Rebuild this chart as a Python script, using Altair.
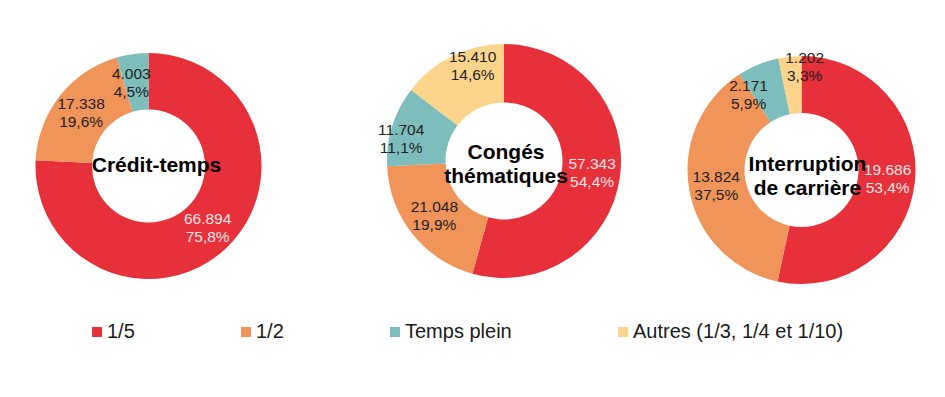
import altair as alt
import pandas as pd

categories = ["1/5", "1/2", "Temps plein", "Autres (1/3, 1/4 et 1/10)"]
colors = ["#E7303A", "#F09459", "#7DBEBD", "#FDD48B"]

credit_values = [66894, 17338, 4003]
credit_pct = [75.8, 19.6, 4.5]
conges_values = [57343, 21048, 11704, 15410]
conges_pct = [54.4, 19.9, 11.1, 14.6]
interr_values = [19686, 13824, 2171, 1202]
interr_pct = [53.4, 37.5, 5.9, 3.3]

titles = ["Crédit-temps", "Congés\nthématiques", "Interruption\nde carrière"]

# label nudges (pixels) for the small slices, as placed in the original
nudges = {
    (0, 2): (-5, 2),
    (1, 2): (-18, 5),
    (1, 3): (8, -15),
    (2, 2): (-20, 5),
    (2, 3): (12, -17),
}

FONT = "Liberation Sans"


def fmt_label(v, p):
    return f"{v:,}".replace(",", ".") + "\n" + f"{p:.1f}".replace(".", ",") + "%"


def donut(idx, title, values, pcts, w, h, R, legend, title_dx, title_dy):
    n = len(values)
    df = pd.DataFrame({
        "cat": categories[:n],
        "order": list(range(n)),
        "value": values,
        "label": [fmt_label(v, p) for v, p in zip(values, pcts)],
        "ndx": [nudges.get((idx, i), (0, 0))[0] for i in range(n)],
        "ndy": [nudges.get((idx, i), (0, 0))[1] - 9 for i in range(n)],
    })
    base = alt.Chart(df).encode(
        theta=alt.Theta("value:Q", stack=True),
        order=alt.Order("order:Q"),
    )
    arc = base.mark_arc(innerRadius=R * 0.5, outerRadius=R).encode(
        color=alt.Color("cat:N", scale=alt.Scale(domain=categories, range=colors),
                        legend=legend)
    )
    txt = base.mark_text(radius=R * 0.76, fontSize=15.5, font=FONT, lineBreak="\n",
                         lineHeight=18, align="center", baseline="middle",
                         dx=alt.expr("datum.ndx"), dy=alt.expr("datum.ndy")).encode(
        text="label:N",
        color=alt.condition("datum.order == 0", alt.value("#FCE3E6"), alt.value("#1E1E1E")),
    )
    center = alt.Chart(pd.DataFrame({"t": [title]})).mark_text(
        fontSize=21, fontWeight="bold", font=FONT, lineBreak="\n", lineHeight=24,
        align="center", baseline="middle", color="#000000", dx=title_dx, dy=title_dy
    ).encode(text="t:N", x=alt.value(w / 2), y=alt.value(h / 2))
    return alt.layer(arc, txt, center).properties(width=w, height=h)


legend = alt.Legend(
    orient="none", legendX=79, legendY=314, direction="horizontal", columns=4,
    title=None, symbolType="square", symbolSize=100, symbolStrokeWidth=0,
    labelFontSize=20, labelFont=FONT, labelColor="#1A1A1A", labelOffset=0,
    labelLimit=500, columnPadding=101, padding=0,
)

c1 = donut(0, titles[0], credit_values, credit_pct, 281, 316, 113, legend, 8, 0)
c2 = donut(1, titles[1], conges_values, conges_pct, 430, 306, 117, None, 2, -8)
c3 = donut(2, titles[2], interr_values, interr_pct, 165, 324, 114, None, 6, -5)

chart = alt.hconcat(c1, c2, c3, spacing=0, bounds="flush").resolve_scale(
    color="independent"
).properties(padding=0).configure_view(stroke=None)

chart.save("out.html", embed_options={"renderer": "svg", "actions": False})
